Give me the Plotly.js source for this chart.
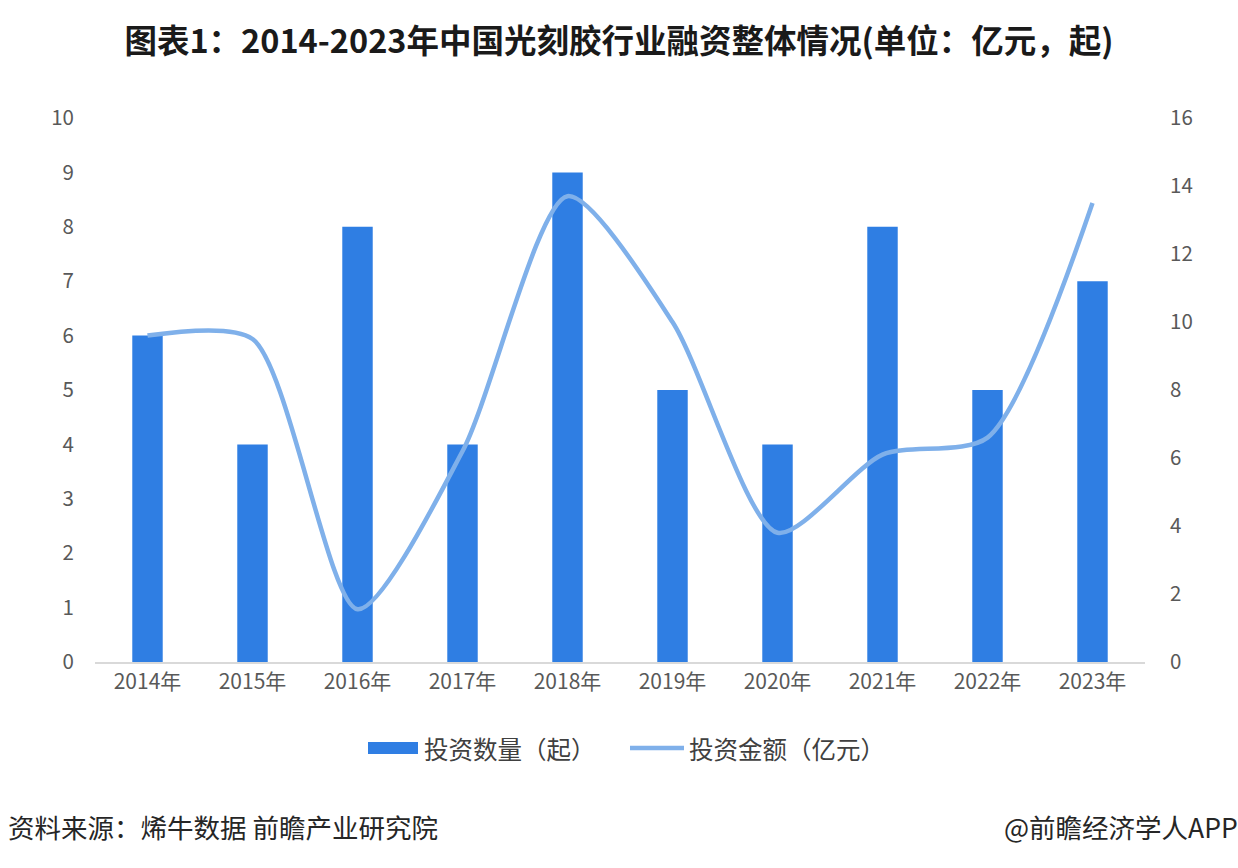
<!DOCTYPE html>
<html><head><meta charset="utf-8">
<script src="https://cdn.plot.ly/plotly-3.0.1.min.js"></script>
<style>body{margin:0;background:#fff}#c{width:1238px;height:868px}</style>
</head><body><div id="c"></div>
<script>
const years = ['2014年','2015年','2016年','2017年','2018年','2019年','2020年','2021年','2022年','2023年'];
const dealCount = [6,4,8,4,9,5,4,8,5,7];
const dealAmount = [9.6,9.5,1.55,6.2,13.7,10.0,3.8,6.1,6.6,13.5];
const leftTicks = [0,1,2,3,4,5,6,7,8,9,10];
const rightTicks = [0,2,4,6,8,10,12,14,16];
const seriesNames = ['投资数量（起）','投资金额（亿元）'];

const F = '"Noto Sans CJK SC", "Noto Sans", sans-serif';
const BAR_C = '#2f7ee3', LINE_C = '#7fb0ea';
// pixel -> paper helpers (plot area: x 95..1145, y 118..662)
const px = v => (v - 95) / 1050;
const py = v => (662 - v) / 544;

const data = [
  {type:'bar', x:years, y:dealCount, name:seriesNames[0], marker:{color:BAR_C}, yaxis:'y'},
  {type:'scatter', mode:'lines', x:years, y:dealAmount, name:seriesNames[1],
   line:{color:LINE_C, width:4.5, shape:'spline', smoothing:0.72}, yaxis:'y2'}
];
const layout = {
  width:1238, height:868,
  paper_bgcolor:'#ffffff', plot_bgcolor:'#ffffff',
  margin:{l:95, r:93, t:118, b:206},
  font:{family:F, color:'#595959', size:20},
  title:{text:'<b>图表1：2014-2023年中国光刻胶行业融资整体情况(单位：亿元，起)</b>',
    font:{family:F, size:32.5, color:'#1a1a1a'}, x:0.5, xanchor:'center', y:1 - 42/868, yanchor:'middle', yref:'container'},
  bargap:0.71,
  xaxis:{showgrid:false, showline:true, linecolor:'#d9d9d9', linewidth:1.5, ticks:'', tickfont:{size:21, color:'#595959'}, zeroline:false},
  yaxis:{range:[0,10], tickvals:leftTicks, showgrid:false, zeroline:false, showline:false, ticks:'', tickfont:{size:20.5,color:'#595959'}, ticklabelstandoff:20},
  yaxis2:{range:[0,16], tickvals:rightTicks, overlaying:'y', side:'right', showgrid:false, zeroline:false, showline:false, ticks:'', tickfont:{size:20.5,color:'#595959'}, ticklabelstandoff:24},
  showlegend:false,
  shapes:[
    {type:'rect', xref:'paper', yref:'paper', x0:px(368), x1:px(418), y0:py(754), y1:py(742), fillcolor:BAR_C, line:{width:0}},
    {type:'line', xref:'paper', yref:'paper', x0:px(630), x1:px(684), y0:py(748), y1:py(748), line:{color:LINE_C, width:4.5}}
  ],
  annotations:[
    {text:seriesNames[0], xref:'paper', yref:'paper', x:px(422), xanchor:'left', y:py(748), yanchor:'middle', showarrow:false, font:{family:F, size:24.5, color:'#404040'}},
    {text:seriesNames[1], xref:'paper', yref:'paper', x:px(687), xanchor:'left', y:py(748), yanchor:'middle', showarrow:false, font:{family:F, size:24.5, color:'#404040'}},
    {text:'资料来源：烯牛数据 前瞻产业研究院', xref:'paper', yref:'paper', x:px(6), xanchor:'left', y:py(826), yanchor:'middle', showarrow:false, font:{family:F, size:26.5, color:'#262626'}},
    {text:'@前瞻经济学人APP', xref:'paper', yref:'paper', x:px(1240), xanchor:'right', y:py(826), yanchor:'middle', showarrow:false, font:{family:F, size:26.5, color:'#262626'}}
  ]
};
Plotly.newPlot('c', data, layout, {displayModeBar:false, staticPlot:true});
</script></body></html>
